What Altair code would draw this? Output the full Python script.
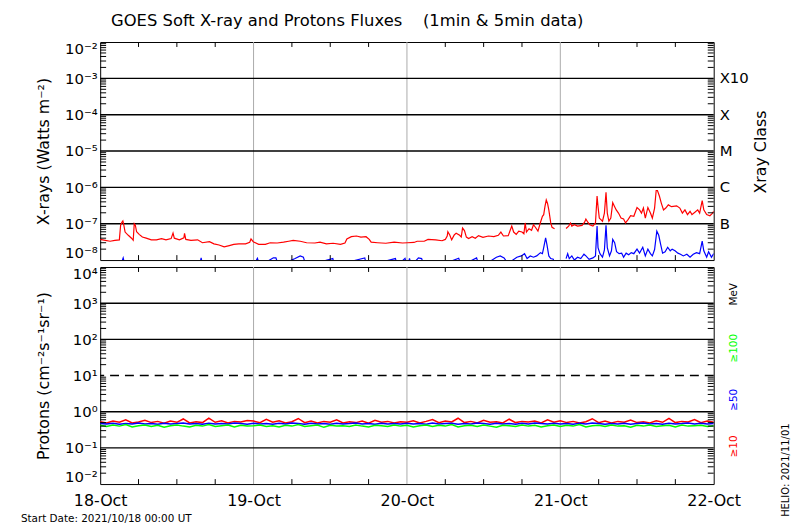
import altair as alt
import pandas as pd

# ---------------- data ----------------
day_labels = ["18-Oct", "19-Oct", "20-Oct", "21-Oct", "22-Oct"]
day_hours = [0, 24, 48, 72, 96]
sub_hours = [6, 12, 18, 30, 36, 42, 54, 60, 66, 78, 84, 90]

# GOES long channel (1-8 A), hours since 2021-10-18 00:00 UT; None marks a data gap
xl_hours = [0, 0.8, 1.55, 2.3, 3.0, 3.2, 3.4, 3.55, 3.7, 3.9, 4.4, 4.9, 5.17, 5.33, 5.5, 5.7,
            6.1, 6.6, 7.2, 8.0, 8.8, 9.6, 10.3, 11.1, 11.4, 11.6, 12.4, 13.1, 13.2, 13.4, 14.2,
            15.25, 16.0, 17.1, 17.8, 18.6, 19.4, 20.2, 20.9, 21.7, 22.75, 23.4, 23.6, 23.95,
            24.8, 25.85, 26.6, 27.7, 28.7, 29.5, 30.2, 31.3, 32.3, 33.6, 34.4, 35.4, 36.45,
            37.6, 38.3, 38.6, 39.3, 40.1, 40.8, 41.6, 42.1, 42.4, 43.4, 44.7, 46.0, 47.3,
            48.08, 49.1, 49.6, 50.7, 51.3, 52.5, 53.5, 54.0, 54.3, 54.4, 54.7, 55.0, 55.4, 55.7,
            56.25, 56.5, 56.7, 57.0, 57.3, 57.65, 58.2, 58.7, 59.2, 59.9, 60.75, 61.6, 62.3,
            62.7, 63.1, 63.85, 64.4, 64.7, 65.1, 65.5, 66.0, 66.3, 66.5, 66.7, 67.1, 67.5, 67.8,
            68.1, 68.5, 68.9, 69.2, 69.4, 69.6, 69.8, 70.0, 70.2, 70.5, 70.7, 71.1,
            72.0,
            72.9, 73.3, 73.6, 73.8, 74.2, 74.7, 75.4, 75.8, 76.0, 76.3, 76.6, 77.1, 77.5, 77.75,
            77.9, 78.1, 78.6, 78.9, 79.15, 79.35, 79.6, 79.9, 80.2, 80.5, 80.75, 81.1, 81.5,
            81.9, 82.2, 82.6, 83.0, 83.5, 84.0, 84.4, 84.7, 85.0, 85.3, 85.7, 86.1, 86.4, 86.75,
            87.0, 87.2, 87.5, 87.8, 88.15, 88.5, 88.9, 89.4, 90.2, 90.7, 91.1, 91.5, 91.9, 92.3,
            92.6, 93.05, 93.5, 93.8, 94.2, 94.45, 94.9, 95.4, 95.75, 96.0]
xl_flux = [3.7e-8, 3.5e-8, 3.3e-8, 3.5e-8, 3.6e-8, 9.1e-8, 1.1e-7, 1.2e-7, 9.1e-8, 5.9e-8,
           4.8e-8, 4.0e-8, 3.5e-8, 1.0e-7, 9.1e-8, 6.0e-8, 5.1e-8, 4.3e-8, 4.0e-8, 3.6e-8,
           3.6e-8, 3.9e-8, 3.6e-8, 3.9e-8, 5.5e-8, 4.0e-8, 3.6e-8, 4.1e-8, 5.4e-8, 3.7e-8,
           3.5e-8, 3.6e-8, 3.0e-8, 3.2e-8, 2.8e-8, 2.6e-8, 2.3e-8, 2.5e-8, 2.7e-8, 2.8e-8,
           2.8e-8, 3.1e-8, 3.8e-8, 3.2e-8,
           2.7e-8, 2.7e-8, 3.0e-8, 2.95e-8, 3.1e-8, 3.3e-8, 3.5e-8, 3.3e-8, 3.0e-8, 2.95e-8,
           3.1e-8, 2.8e-8, 2.9e-8, 2.7e-8, 2.95e-8, 3.8e-8, 4.4e-8, 4.6e-8, 4.3e-8, 4.4e-8,
           3.7e-8, 3.1e-8, 3.0e-8, 2.9e-8, 3.1e-8, 2.95e-8,
           3.0e-8, 3.05e-8, 3.3e-8, 3.3e-8, 3.7e-8, 3.6e-8, 3.4e-8, 3.7e-8, 4.6e-8, 6.0e-8,
           4.9e-8, 3.6e-8, 4.9e-8, 5.5e-8, 4.8e-8, 4.3e-8, 7.6e-8, 6.5e-8, 4.3e-8, 3.9e-8,
           4.4e-8, 4.0e-8, 4.7e-8, 4.2e-8, 4.6e-8, 4.4e-8, 4.8e-8, 5.9e-8, 4.6e-8, 4.7e-8,
           8.6e-8, 5.9e-8, 5.1e-8, 6.25e-8, 5.9e-8, 5.3e-8, 1.05e-7, 5.9e-8, 7.3e-8, 6.6e-8,
           9.4e-8, 8.0e-8, 6.25e-8, 1.1e-7, 1.6e-7, 1.77e-7, 3.0e-7, 4.5e-7, 3.6e-7, 2.4e-7,
           1.05e-7, 8.0e-8, 7.3e-8,
           None,
           7.4e-8, 8.6e-8, 1.05e-7, 8.6e-8, 9.4e-8, 8.6e-8, 9.0e-8, 1.1e-7, 1.35e-7, 1.1e-7,
           9.4e-8, 8.6e-8, 1.05e-7, 5.8e-7, 2.95e-7, 1.43e-7, 1.17e-7, 1.96e-7, 7.3e-7, 1.96e-7,
           1.17e-7, 1.43e-7, 3.8e-7, 2.95e-7, 2.4e-7, 1.96e-7, 1.43e-7, 1.35e-7, 1.05e-7, 1.3e-7,
           1.66e-7, 1.6e-7, 2.8e-7, 2.4e-7, 1.96e-7, 2.7e-7, 1.43e-7, 2.8e-7, 1.96e-7, 1.43e-7,
           2.7e-7, 8.2e-7, 8.2e-7, 5.8e-7, 3.7e-7, 2.4e-7, 2.7e-7, 3.3e-7, 2.95e-7, 3.1e-7,
           2.7e-7, 1.96e-7, 2.4e-7, 1.78e-7, 2.2e-7, 1.78e-7, 2.06e-7, 2.4e-7, 1.96e-7, 4.3e-7,
           2.4e-7, 1.78e-7, 1.66e-7, 1.9e-7, 2.2e-7]

# GOES short channel (0.5-4 A)
xs_hours = [0, 3.3, 3.6, 3.9, 10, 15.6, 15.8, 16.1, 24, 24.6, 25, 27.1, 27.5, 27.9, 30.5,
            31.3, 31.8, 32.2, 36.4, 36.7, 41.4, 41.7, 46.2, 46.5, 47.7, 48.1, 48.4, 48.7,
            49.8, 50.3, 50.8, 52, 56.1, 56.5, 58.9, 59.4, 62, 62.6, 63.2, 63.8, 65.2, 65.9,
            66.4, 66.8, 67.3, 67.8, 68.3, 68.9, 69.2, 69.4, 69.7, 69.9, 70.2, 70.5, 70.9, 71.1,
            72.0,
            72.9, 73.15, 73.4, 73.8, 74.2, 74.7, 75.2, 75.7, 76.0, 76.5, 77.1, 77.5, 77.75,
            77.9, 78.2, 78.6, 78.9, 79.15, 79.35, 79.7, 80.0, 80.2, 80.5, 80.8, 81.2, 81.6,
            81.9, 82.3, 82.7, 83.1, 83.5, 84.0, 84.4, 84.9, 85.3, 85.7, 86.1, 86.4, 86.75,
            87.1, 87.4, 87.7, 88.0, 88.4, 88.8, 89.2, 89.5, 89.95, 90.4, 90.8, 91.25, 91.8,
            92.3, 92.8, 93.3, 93.8, 94.2, 94.45, 94.9, 95.2, 95.65, 96.0]
xs_flux = [6e-9, 8e-9, 1.15e-8, 7e-9, 6e-9, 8e-9, 1.15e-8, 6e-9, 7e-9, 1.12e-8, 7e-9,
           1.15e-8, 1.15e-8, 7e-9, 1.1e-8, 1.3e-8, 1.2e-8, 7e-9, 1.1e-8, 7e-9, 1.15e-8,
           7e-9, 1.1e-8, 7e-9, 1.12e-8, 6e-9, 1.12e-8, 7e-9, 1.15e-8, 1.1e-8, 6e-9, 6e-9,
           1.12e-8, 7e-9, 1.15e-8, 6e-9, 1.2e-8, 1.3e-8, 1.15e-8, 8e-9, 1.2e-8, 1.3e-8,
           1.5e-8, 1.1e-8, 1.3e-8, 1.2e-8, 1.3e-8, 1.6e-8, 1.5e-8, 2.2e-8, 4.1e-8, 2.7e-8,
           1.3e-8, 1.1e-8, 1.05e-8, 8e-9,
           None,
           1.1e-8, 1.5e-8, 1.1e-8, 1.3e-8, 1.0e-8, 1.2e-8, 1.1e-8, 1.45e-8, 1.3e-8, 1.05e-8,
           1.15e-8, 1.3e-8, 8.6e-8, 2.2e-8, 1.5e-8, 1.2e-8, 1.9e-8, 9.0e-8, 2.2e-8, 1.3e-8,
           1.8e-8, 3.7e-8, 3.0e-8, 1.7e-8, 1.5e-8, 1.55e-8, 1.2e-8, 1.55e-8, 1.4e-8, 1.6e-8,
           1.5e-8, 2.0e-8, 1.55e-8, 2.25e-8, 1.3e-8, 2.0e-8, 1.5e-8, 1.3e-8, 1.95e-8, 6.25e-8,
           4.8e-8, 2.7e-8, 1.55e-8, 1.7e-8, 2.25e-8, 1.8e-8, 2.0e-8, 1.8e-8, 1.55e-8, 1.45e-8,
           1.3e-8, 1.45e-8, 1.2e-8, 1.45e-8, 1.6e-8, 1.5e-8, 3.3e-8, 1.8e-8, 1.2e-8, 1.7e-8,
           1.2e-8, 1.5e-8]

xray_grid = [1e-7, 1e-6, 1e-5, 1e-4, 1e-3]
xray_decades = [1e-8, 1e-7, 1e-6, 1e-5, 1e-4, 1e-3, 1e-2]
xray_class_flux = [1e-3, 1e-4, 1e-5, 1e-6, 1e-7]
xray_class_labels = ["X10", "X", "M", "C", "B"]

# Protons (5-min data, hourly samples)
p10 = [0.53, 0.49, 0.55, 0.51, 0.60, 0.49, 0.52, 0.58, 0.50, 0.54, 0.48, 0.55, 0.51, 0.63,
       0.49, 0.53, 0.50, 0.66, 0.51, 0.56, 0.49, 0.54, 0.52, 0.57, 0.55, 0.50, 0.62, 0.51,
       0.56, 0.49, 0.53, 0.65, 0.50, 0.55, 0.49, 0.54, 0.51, 0.60, 0.49, 0.53, 0.50, 0.55,
       0.48, 0.58, 0.51, 0.54, 0.49, 0.53, 0.51, 0.56, 0.49, 0.54, 0.61, 0.50, 0.55, 0.52,
       0.66, 0.50, 0.54, 0.49, 0.58, 0.51, 0.53, 0.49, 0.62, 0.50, 0.54, 0.52, 0.55, 0.49,
       0.60, 0.51, 0.56, 0.50, 0.54, 0.49, 0.53, 0.64, 0.50, 0.55, 0.49, 0.54, 0.51, 0.59,
       0.50, 0.53, 0.49, 0.56, 0.51, 0.65, 0.50, 0.54, 0.52, 0.61, 0.50, 0.55, 0.51]
p50 = [0.47, 0.46, 0.48, 0.45, 0.47, 0.46, 0.49, 0.46, 0.47, 0.45, 0.48, 0.46, 0.47, 0.49,
       0.46, 0.47, 0.45, 0.48, 0.46, 0.47, 0.46, 0.49, 0.47, 0.45, 0.48, 0.46, 0.47, 0.45,
       0.48, 0.46, 0.49, 0.47, 0.45, 0.48, 0.46, 0.47, 0.45, 0.48, 0.46, 0.47, 0.49, 0.46,
       0.47, 0.45, 0.48, 0.46, 0.47, 0.46, 0.48, 0.46, 0.47, 0.45, 0.49, 0.46, 0.47, 0.48,
       0.45, 0.47, 0.46, 0.49, 0.47, 0.45, 0.48, 0.46, 0.47, 0.45, 0.48, 0.46, 0.49, 0.47,
       0.46, 0.48, 0.46, 0.47, 0.45, 0.48, 0.46, 0.49, 0.47, 0.45, 0.47, 0.46, 0.48, 0.45,
       0.47, 0.49, 0.46, 0.47, 0.45, 0.48, 0.46, 0.47, 0.49, 0.46, 0.48, 0.46, 0.47]
p100 = [0.42, 0.39, 0.43, 0.40, 0.44, 0.38, 0.41, 0.43, 0.39, 0.42, 0.37, 0.41, 0.43, 0.40,
        0.38, 0.42, 0.40, 0.44, 0.39, 0.41, 0.43, 0.38, 0.42, 0.40, 0.41, 0.43, 0.39, 0.41,
        0.38, 0.42, 0.40, 0.44, 0.39, 0.41, 0.43, 0.37, 0.42, 0.40, 0.41, 0.39, 0.43, 0.40,
        0.38, 0.42, 0.41, 0.39, 0.43, 0.40, 0.42, 0.38, 0.41, 0.43, 0.39, 0.42, 0.40, 0.44,
        0.38, 0.41, 0.42, 0.39, 0.43, 0.40, 0.37, 0.42, 0.41, 0.39, 0.43, 0.40, 0.42, 0.38,
        0.41, 0.43, 0.39, 0.42, 0.40, 0.44, 0.38, 0.41, 0.42, 0.39, 0.43, 0.40, 0.41, 0.37,
        0.42, 0.40, 0.43, 0.39, 0.41, 0.42, 0.38, 0.43, 0.40, 0.41, 0.42, 0.39, 0.41]
proton_decades = [1e-2, 1e-1, 1e0, 1e1, 1e2, 1e3, 1e4]
proton_grid_solid = [1e-1, 1e0, 1e2, 1e3]
proton_grid_dashed = [1e1]

title_text = "GOES Soft X-ray and Protons Fluxes\u00a0\u00a0\u00a0\u00a0(1min & 5min data)"
proton_labels = ["MeV", "\u2265100", "\u226550", "\u226510"]
proton_label_colors = ["black", "#00FF00", "#0000FF", "#FF0000"]

# ---------------- layout / style ----------------
FONT = "DejaVu Sans"
W, H_TOP, H_BOT = 619, 220, 219
proton_label_y = [27.5, 82, 134, 181]


def series_df(hours, vals):
    rows, seg = [], 0
    for h, v in zip(hours, vals):
        if v is None:
            seg += 1
            continue
        rows.append({"h": h, "v": v, "seg": seg})
    return pd.DataFrame(rows)


def even_df(vals):
    n = len(vals)
    return pd.DataFrame({"h": [96.0 * i / (n - 1) for i in range(n)], "v": vals})


def minor_ticks(decades):
    return pd.DataFrame({"v": [m * d for d in decades[:-1] for m in range(2, 10)]})


one = pd.DataFrame({"d": [0]})
xsc = alt.Scale(domain=[0, 96], nice=False, zero=False)
ys_top = alt.Scale(type="log", domain=[1e-8, 1e-2], nice=False)
ys_bot = alt.Scale(type="log", domain=[1e-2, 1e4], nice=False)

E = "round(log(datum.value)/LN10)"
SUP = "['\u2070','\u00b9','\u00b2','\u00b3','\u2074','\u2075','\u2076','\u2077','\u2078','\u2079']"
sup_expr = f"'10' + ({E} < 0 ? '\u207b' : '') + {SUP}[abs({E})]"
day_expr = f"{day_labels}[indexof({day_hours}, datum.value)]"


def y_axis(values, title, h):
    return alt.Axis(values=values, labelExpr=sup_expr, grid=False, ticks=False, domain=False,
                    labelFlush=True, labelOverlap=False, labelPadding=3, labelFontSize=15,
                    labelFont=FONT, labelColor="black", title=title, titleX=-57, titleY=h / 2,
                    titleAngle=270, titleBaseline="middle", titleAlign="center",
                    titleFontSize=16, titleFontWeight="normal", titleFont=FONT,
                    titleColor="black")


AX_TOP = y_axis(xray_decades, "X-rays (Watts m\u207b\u00b2)", H_TOP)
AX_BOT = y_axis(proton_decades, "Protons (cm\u207b\u00b2s\u207b\u00b9sr\u207b\u00b9)", H_BOT)
AX_X = alt.Axis(values=day_hours, labelExpr=day_expr, grid=False, ticks=False, domain=False,
                labelPadding=9, labelFontSize=16, labelFont=FONT, labelColor="black",
                labelFlush=False, labelOverlap=False, title=None)


def frame_layers(ysc, yax, xax, decades, h):
    mt = minor_ticks(decades)
    xt = pd.DataFrame({"h": sub_hours})
    return [
        alt.Chart(mt).mark_rule(color="black").encode(
            y=alt.Y("v:Q", scale=ysc, axis=yax), x=alt.value(0), x2=alt.value(6)),
        alt.Chart(mt).mark_rule(color="black").encode(
            y=alt.Y("v:Q", scale=ysc, axis=yax), x=alt.value(W - 6), x2=alt.value(W)),
        alt.Chart(xt).mark_rule(color="black").encode(
            x=alt.X("h:Q", scale=xsc, axis=xax), y=alt.value(0), y2=alt.value(5)),
        alt.Chart(xt).mark_rule(color="black").encode(
            x=alt.X("h:Q", scale=xsc, axis=xax), y=alt.value(h - 5), y2=alt.value(h)),
    ]


vlines = pd.DataFrame({"h": day_hours[1:-1]})

# ---------------- top panel ----------------
top_layers = [
    alt.Chart(vlines).mark_rule(color="#AAAAAA", strokeWidth=1).encode(
        x=alt.X("h:Q", scale=xsc, axis=None)),
    alt.Chart(pd.DataFrame({"v": xray_grid})).mark_rule(color="black", strokeWidth=1.4).encode(
        y=alt.Y("v:Q", scale=ys_top, axis=AX_TOP)),
    alt.Chart(series_df(xs_hours, xs_flux)).mark_line(color="#0000FF", strokeWidth=1.2, clip=True).encode(
        x=alt.X("h:Q", scale=xsc, axis=None), y=alt.Y("v:Q", scale=ys_top, axis=AX_TOP),
        detail="seg:N"),
    alt.Chart(series_df(xl_hours, xl_flux)).mark_line(color="#FF0000", strokeWidth=1.2, clip=True).encode(
        x=alt.X("h:Q", scale=xsc, axis=None), y=alt.Y("v:Q", scale=ys_top, axis=AX_TOP),
        detail="seg:N"),
] + frame_layers(ys_top, AX_TOP, None, xray_decades, H_TOP) + [
    alt.Chart(pd.DataFrame({"v": xray_class_flux, "label": xray_class_labels})).mark_text(
        align="left", baseline="middle", fontSize=15, font=FONT, color="black").encode(
        x=alt.value(W + 6), y=alt.Y("v:Q", scale=ys_top, axis=AX_TOP), text="label:N"),
    alt.Chart(one).mark_text(text="Xray Class", angle=270, align="center", baseline="middle",
                             fontSize=16, font=FONT, color="black").encode(
        x=alt.value(W + 48), y=alt.value(H_TOP / 2 + 1)),
    alt.Chart(one).mark_text(text=title_text, align="left", baseline="middle", fontSize=16.5,
                             font=FONT, color="black").encode(
        x=alt.value(11), y=alt.value(-21)),
]
top = alt.layer(*top_layers).properties(width=W, height=H_TOP)

# ---------------- bottom panel ----------------
bot_layers = [
    alt.Chart(vlines).mark_rule(color="#AAAAAA", strokeWidth=1).encode(
        x=alt.X("h:Q", scale=xsc, axis=AX_X)),
    alt.Chart(pd.DataFrame({"v": proton_grid_solid})).mark_rule(color="black", strokeWidth=1.4).encode(
        y=alt.Y("v:Q", scale=ys_bot, axis=AX_BOT)),
    alt.Chart(pd.DataFrame({"v": proton_grid_dashed})).mark_rule(
        color="black", strokeWidth=1.4, strokeDash=[9, 6]).encode(
        y=alt.Y("v:Q", scale=ys_bot, axis=AX_BOT)),
    alt.Chart(even_df(p10)).mark_line(color="#FF0000", strokeWidth=1.5, clip=True).encode(
        x=alt.X("h:Q", scale=xsc, axis=AX_X), y=alt.Y("v:Q", scale=ys_bot, axis=AX_BOT)),
    alt.Chart(even_df(p50)).mark_line(color="#0000FF", strokeWidth=1.5, clip=True).encode(
        x=alt.X("h:Q", scale=xsc, axis=AX_X), y=alt.Y("v:Q", scale=ys_bot, axis=AX_BOT)),
    alt.Chart(even_df(p100)).mark_line(color="#00FF00", strokeWidth=1.5, clip=True).encode(
        x=alt.X("h:Q", scale=xsc, axis=AX_X), y=alt.Y("v:Q", scale=ys_bot, axis=AX_BOT)),
] + frame_layers(ys_bot, AX_BOT, AX_X, proton_decades, H_BOT)

for lab, col, yy in zip(proton_labels, proton_label_colors, proton_label_y):
    bot_layers.append(
        alt.Chart(one).mark_text(text=lab, angle=270, align="center", baseline="middle",
                                 fontSize=10.5, font=FONT, color=col).encode(
            x=alt.value(W + 21), y=alt.value(yy)))
bot_layers += [
    alt.Chart(one).mark_text(text="HELIO: 2021/11/01", angle=270, align="center",
                             baseline="middle", fontSize=10, font=FONT, color="black").encode(
        x=alt.value(W + 73), y=alt.value(205)),
    alt.Chart(one).mark_text(text="Start Date: 2021/10/18 00:00 UT", align="left",
                             baseline="middle", fontSize=10.5, font=FONT, color="black").encode(
        x=alt.value(-80), y=alt.value(H_BOT + 35)),
]
bottom = alt.layer(*bot_layers).properties(width=W, height=H_BOT)

chart = alt.vconcat(top, bottom, spacing=5).properties(
    padding={"left": 12, "top": 2, "right": 0, "bottom": 0},
    background="white",
).configure_view(stroke="black", strokeWidth=1)

chart.save("out.html", embed_options={"renderer": "svg", "actions": False})
